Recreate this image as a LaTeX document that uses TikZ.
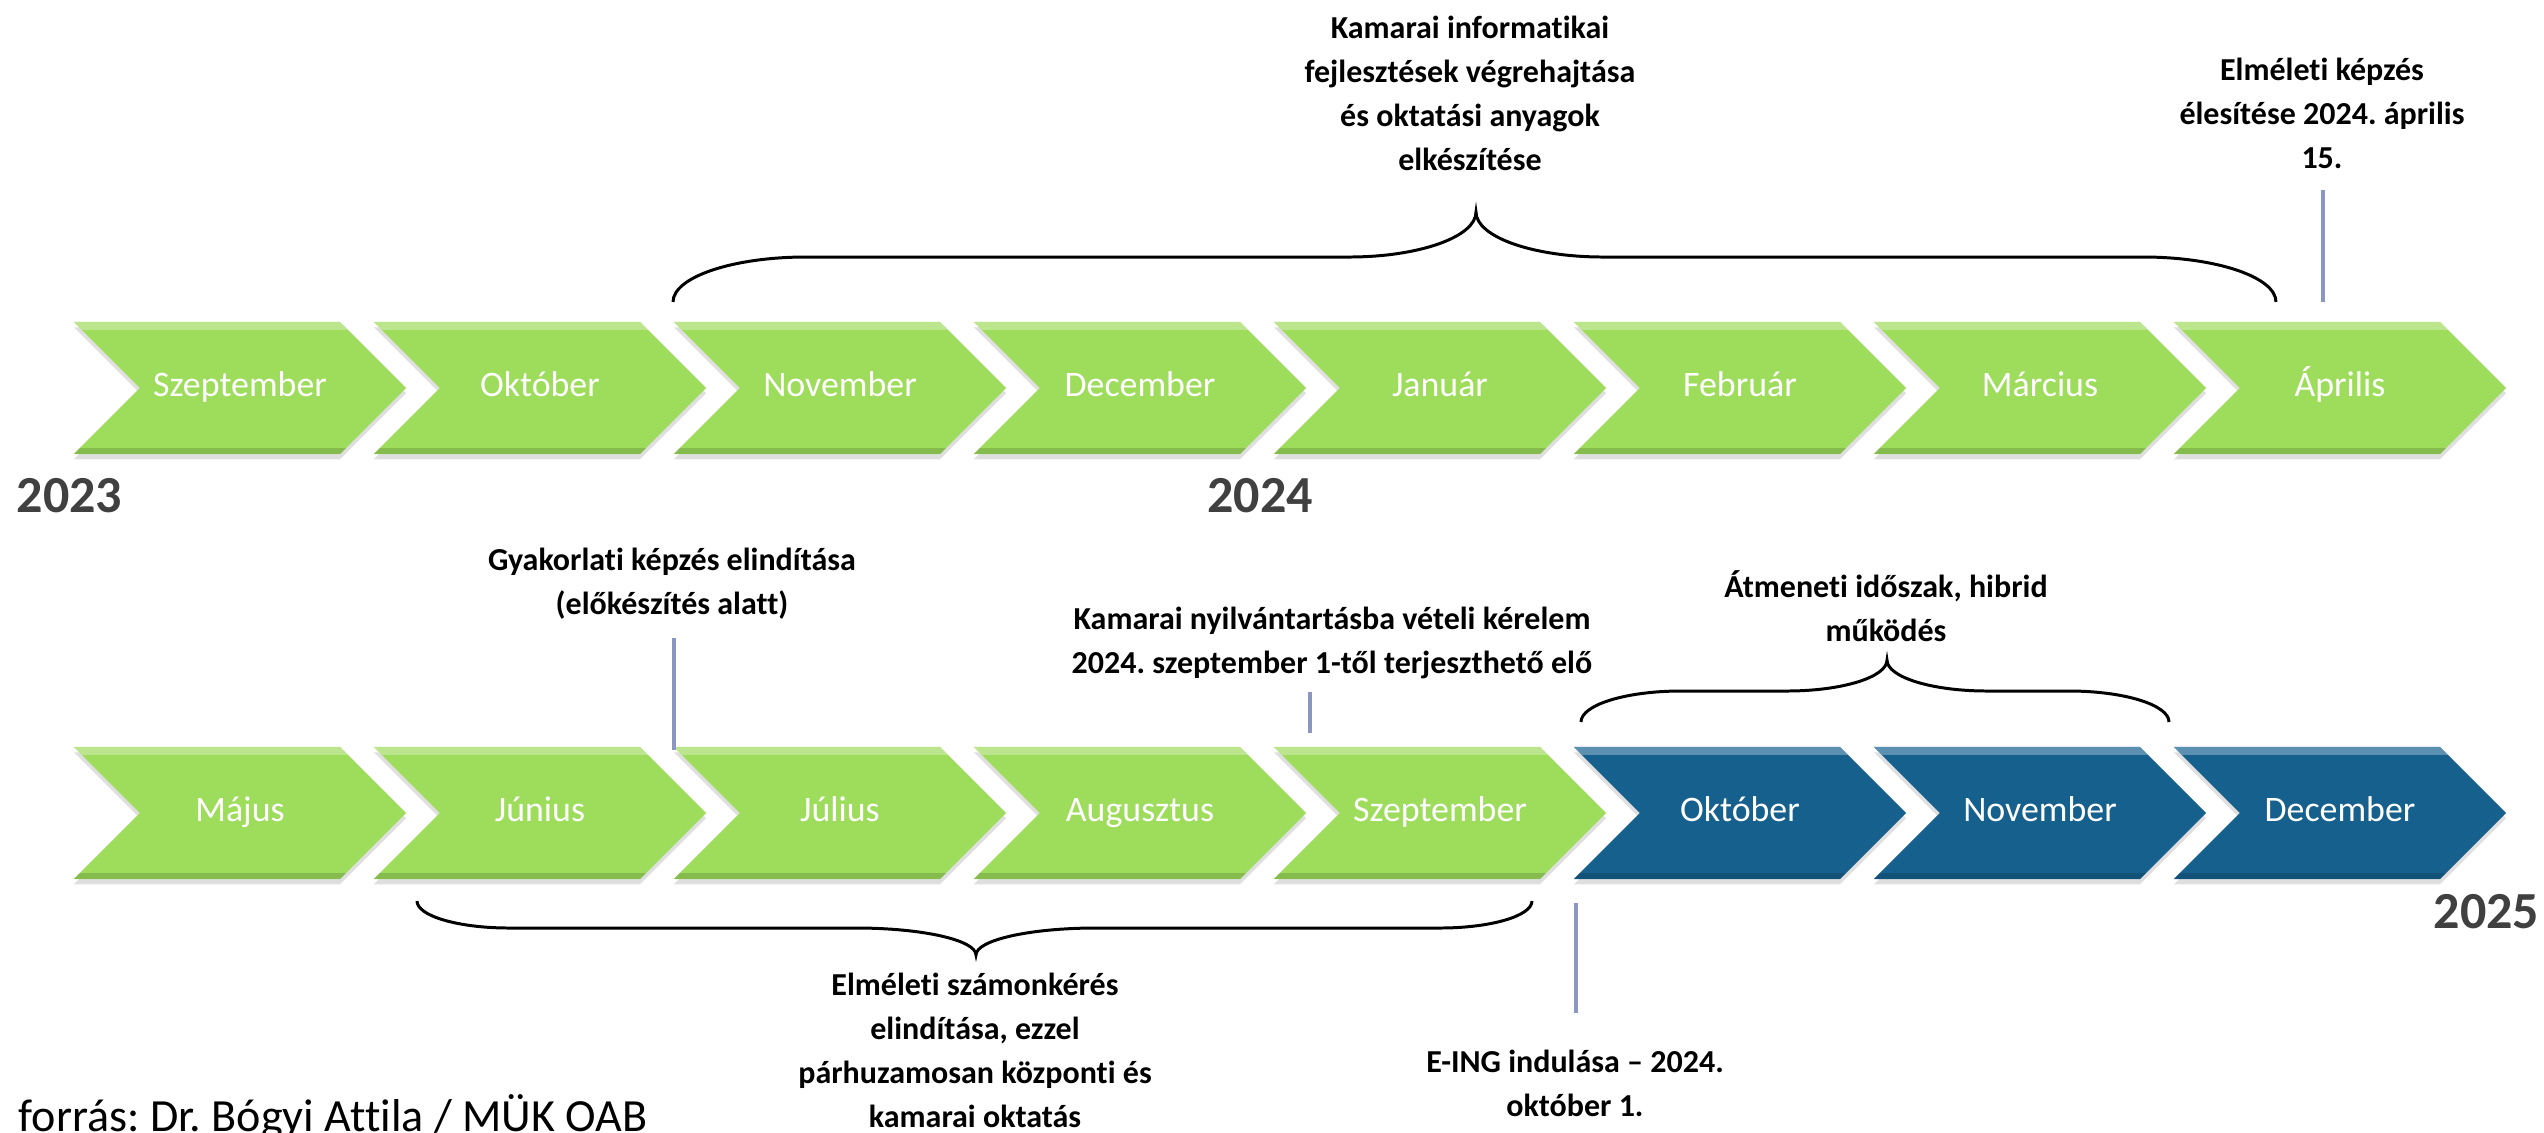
\documentclass[tikz,border=0pt]{standalone}
\usepackage{fontspec}
\setmainfont{Carlito}[Ligatures={NoCommon,NoContextual,NoRare}]
\usetikzlibrary{shapes.symbols,shadows}
\definecolor{zold}{RGB}{158,220,92}
\definecolor{kek}{RGB}{22,96,142}
\definecolor{evszam}{RGB}{64,64,64}
\definecolor{vonalszin}{RGB}{140,150,195}
\frenchspacing
\tikzset{
  honap/.style={signal, signal to=east, signal from=west, signal pointer angle=90,
    minimum width=3.32cm, minimum height=1.32cm, inner sep=0pt, outer sep=0pt,
    text height=0.72em, text depth=0.22em,
    text=white, font=\fontsize{10.2}{12}\selectfont,
    drop shadow={shadow xshift=0pt, shadow yshift=-1.5pt, opacity=0.25},
    path picture={
      \fill[white, opacity=0.3] (path picture bounding box.north west) rectangle ([yshift=-2.2pt]path picture bounding box.north east);
      \fill[black, opacity=0.15] (path picture bounding box.south west) rectangle ([yshift=1.8pt]path picture bounding box.south east);
    }},
  zoldho/.style={honap, fill=zold},
  kekho/.style={honap, fill=kek},
  cimke/.style={align=center, inner sep=0pt, font=\bfseries\fontsize{9.1}{12.5}\selectfont},
  ev/.style={inner sep=0pt, text=evszam, font=\bfseries\fontsize{14.8}{16}\selectfont},
  vonal/.style={draw=vonalszin, line width=1.1pt},
  kapocs/.style={draw=black, line width=0.85pt}
}
% kapcsos zarojel: x1, x2, csucs x, vegek y, magassag, sarok, csucsiv
\newcommand{\zarojel}[7]{
  \draw[kapocs] (#1,#4) .. controls (#1,{#4+0.552*(#5)}) and ({#1+0.448*#6},{#4+#5}) .. ({#1+#6},{#4+#5})
    -- ({#3-#7},{#4+#5}) .. controls ({#3-0.448*#7},{#4+#5}) and (#3,{#4+1.448*(#5)}) .. (#3,{#4+2*(#5)})
    .. controls (#3,{#4+1.448*(#5)}) and ({#3+0.448*#7},{#4+#5}) .. ({#3+#7},{#4+#5})
    -- ({#2-#6},{#4+#5}) .. controls ({#2-0.448*#6},{#4+#5}) and (#2,{#4+0.552*(#5)}) .. (#2,#4);
}
\begin{document}
\begin{tikzpicture}[x=0.01cm, y=-0.01cm]
\useasboundingbox (0,0) rectangle (2544,1132);
% felso sor
\node[zoldho] (szep23) at (240,388) {Szeptember};
\node[zoldho] (okt23) at (540,388) {Október};
\node[zoldho] (nov23) at (840,388) {November};
\node[zoldho] (dec23) at (1140,388) {December};
\node[zoldho] (jan24) at (1440,388) {Január};
\node[zoldho] (feb24) at (1740,388) {Február};
\node[zoldho] (mar24) at (2040,388) {Március};
\node[zoldho] (apr24) at (2340,388) {Április};
% also sor
\node[zoldho] (maj24) at (240,813) {Május};
\node[zoldho] (jun24) at (540,813) {Június};
\node[zoldho] (jul24) at (840,813) {Július};
\node[zoldho] (aug24) at (1140,813) {Augusztus};
\node[zoldho] (szep24) at (1440,813) {Szeptember};
\node[kekho] (okt24) at (1740,813) {Október};
\node[kekho] (nov24) at (2040,813) {November};
\node[kekho] (dec24) at (2340,813) {December};
% evszamok
\node[ev, anchor=base west] (ev23) at (16,512) {2023};
\node[ev, anchor=base] (ev24) at (1260,512) {2024};
\node[ev, anchor=base east] (ev25) at (2540,928) {2025};
% cimkek
\node[cimke] (infofejl) at (1470,93) {Kamarai informatikai\\fejlesztések végrehajtása\\és oktatási anyagok\\elkészítése};
\node[cimke] (elmkepz) at (2322,113) {Elméleti képzés\\élesítése 2024. április\\15.};
\node[cimke] (gyakkepz) at (672,584) {Gyakorlati képzés elindítása\\(előkészítés alatt)};
\node[cimke] (nyilvtart) at (1332,643) {Kamarai nyilvántartásba vételi kérelem\\2024. szeptember 1-től terjeszthető elő};
\node[cimke] (atmenet) at (1886,606) {Átmeneti időszak, hibrid\\működés};
\node[cimke] (szamonk) at (975,1050) {Elméleti számonkérés\\elindítása, ezzel\\párhuzamosan központi és\\kamarai oktatás};
\node[cimke] (eing) at (1575,1083) {E-ING indulása – 2024.\\október 1.};
\node[anchor=base west, inner sep=0pt, font=\fontsize{13.1}{15}\selectfont] (forras) at (18,1131) {forrás: Dr. Bógyi Attila / MÜK OAB};
% vonalak
\coordinate (elmA) at (2323,190);
\coordinate (elmB) at (2323,302);
\draw[vonal] (elmA) -- (elmB);
\coordinate (gyakA) at (674,638);
\coordinate (gyakB) at (674,750);
\draw[vonal] (gyakA) -- (gyakB);
\coordinate (nyilvA) at (1310,692);
\coordinate (nyilvB) at (1310,733);
\draw[vonal] (nyilvA) -- (nyilvB);
\coordinate (eingA) at (1576,903);
\coordinate (eingB) at (1576,1013);
\draw[vonal] (eingA) -- (eingB);
% zarojelek
\zarojel{673}{2276}{1476}{302}{-45}{133}{127}
\zarojel{417}{1532}{976}{901}{27}{92}{120}
\zarojel{1581}{2169}{1887}{722}{-31}{100}{100}
\end{tikzpicture}
\end{document}
